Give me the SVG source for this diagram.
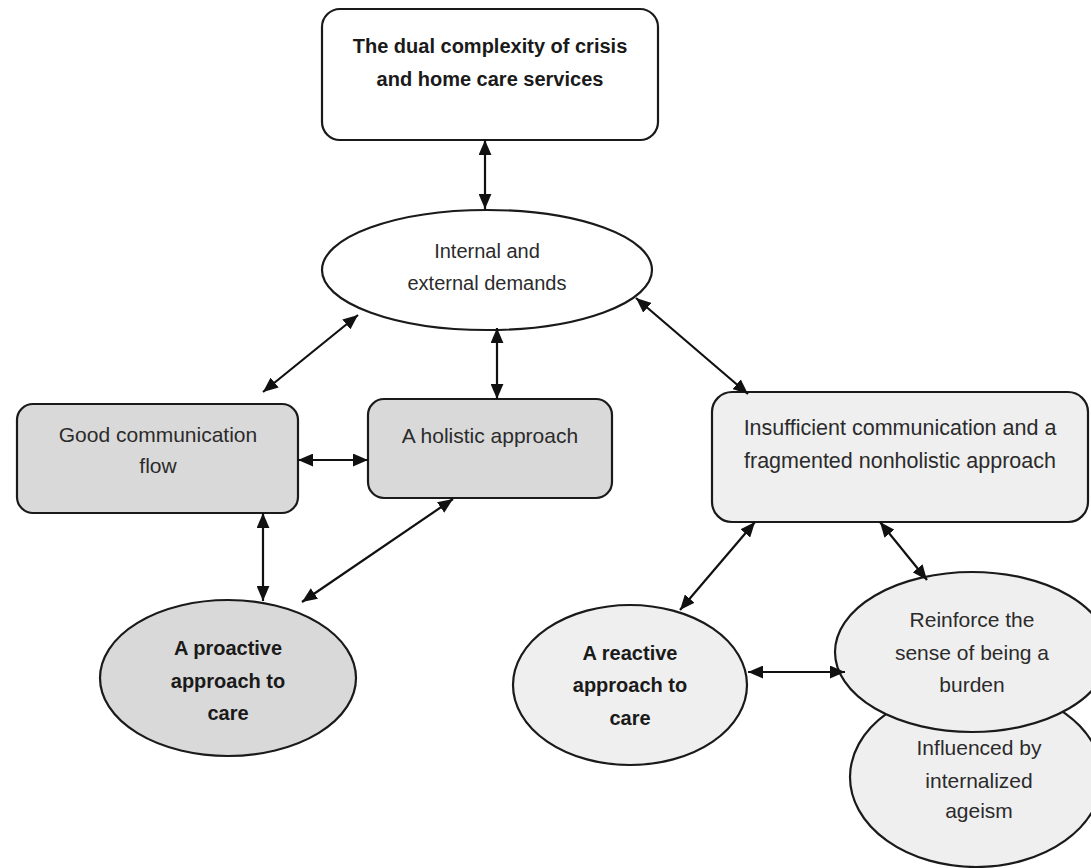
<svg xmlns="http://www.w3.org/2000/svg" width="1091" height="868" viewBox="0 0 1091 868">
<defs>
<style>
.n{stroke:#1a1a1a;stroke-width:2.2}
.w{fill:#ffffff}
.g{fill:#d9d9d9}
.l{fill:#efefef}
text{font-family:"Liberation Sans",Arial,sans-serif;fill:#2b2b2b;text-anchor:middle}
.b{font-weight:bold;font-size:20px;fill:#1a1a1a}
.r{font-size:21px}
.c{stroke:#111;stroke-width:2.2;fill:none;marker-start:url(#ah);marker-end:url(#ah)}
</style>
<marker id="ah" viewBox="0 0 14 12" refX="14" refY="6" markerWidth="15" markerHeight="13" markerUnits="userSpaceOnUse" orient="auto-start-reverse">
<path d="M0,0 L14,6 L0,12 Z" fill="#111"/>
</marker>
</defs>
<rect width="1091" height="868" fill="#ffffff"/>

<g id="node-top">
<rect class="n w" x="322" y="9" width="336" height="131" rx="18"/>
<text class="b" x="490" y="53">The dual complexity of crisis</text>
<text class="b" x="490" y="86">and home care services</text>
</g>

<g id="node-demands">
<ellipse class="n w" cx="487" cy="270" rx="165" ry="60"/>
<text class="r" style="font-size:20px" x="487" y="258">Internal and</text>
<text class="r" style="font-size:20px" x="487" y="290">external demands</text>
</g>

<g id="node-goodcomm">
<rect class="n g" x="17" y="404" width="281" height="109" rx="16"/>
<text class="r" x="158" y="442">Good communication</text>
<text class="r" x="158" y="473">flow</text>
</g>

<g id="node-holistic">
<rect class="n g" x="368" y="399" width="244" height="99" rx="16"/>
<text class="r" x="490" y="443">A holistic approach</text>
</g>

<g id="node-insufficient">
<rect class="n l" x="712" y="392" width="376" height="130" rx="20"/>
<text class="r" style="font-size:21.5px" x="900" y="435">Insufficient communication and a</text>
<text class="r" style="font-size:21.5px" x="900" y="468">fragmented nonholistic approach</text>
</g>

<g id="node-proactive">
<ellipse class="n g" cx="228" cy="678" rx="128" ry="78"/>
<text class="b" x="228" y="655">A proactive</text>
<text class="b" x="228" y="688">approach to</text>
<text class="b" x="228" y="720">care</text>
</g>

<g id="node-reactive">
<ellipse class="n l" cx="630" cy="685" rx="117" ry="80"/>
<text class="b" x="630" y="660">A reactive</text>
<text class="b" x="630" y="692">approach to</text>
<text class="b" x="630" y="725">care</text>
</g>

<g id="node-ageism">
<ellipse class="n l" cx="976" cy="777" rx="126" ry="90"/>
<text class="r" x="979" y="755">Influenced by</text>
<text class="r" x="979" y="788">internalized</text>
<text class="r" x="979" y="818">ageism</text>
</g>

<g id="node-burden">
<ellipse class="n l" cx="972" cy="652" rx="137" ry="80"/>
<text class="r" x="972" y="627">Reinforce the</text>
<text class="r" x="972" y="660">sense of being a</text>
<text class="r" x="972" y="692">burden</text>
</g>

<g id="connectors">
<line class="c" x1="485" y1="140" x2="485" y2="209"/>
<line class="c" x1="358" y1="315" x2="263" y2="392"/>
<line class="c" x1="497" y1="328" x2="497" y2="399"/>
<line class="c" x1="636" y1="298" x2="748" y2="394"/>
<line class="c" x1="298" y1="460" x2="368" y2="460"/>
<line class="c" x1="263" y1="513" x2="263" y2="601"/>
<line class="c" x1="453" y1="499" x2="302" y2="602"/>
<line class="c" x1="755" y1="522" x2="680" y2="610"/>
<line class="c" x1="880" y1="522" x2="927" y2="580"/>
<line class="c" x1="748" y1="672" x2="845" y2="672"/>
</g>
</svg>
